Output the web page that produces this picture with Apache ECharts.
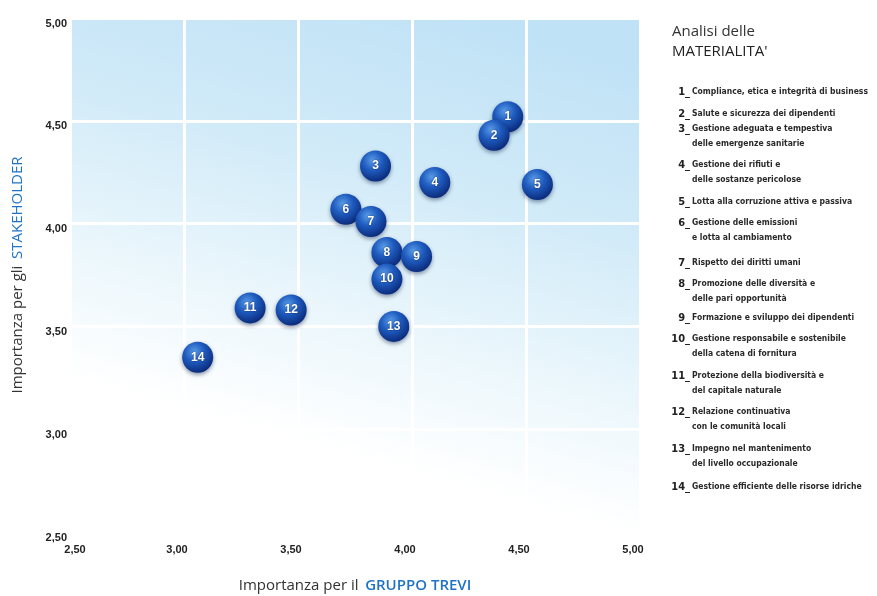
<!DOCTYPE html>
<html>
<head>
<meta charset="utf-8">
<script src="https://cdn.jsdelivr.net/npm/echarts@6/dist/echarts.min.js"></script>
<style>
html,body{margin:0;padding:0;background:#fff;}
#chart{width:877px;height:596px;}
</style>
</head>
<body>
<div id="chart"></div>
<script>
// Topic ids (bubble labels)
var ids = ['1','2','3','4','5','6','7','8','9','10','11','12','13','14'];
// Importanza per il GRUPPO TREVI (x)
var gruppoValues = [4.42, 4.36, 3.84, 4.10, 4.55, 3.71, 3.82, 3.89, 4.02, 3.89, 3.29, 3.47, 3.92, 3.06];
// Importanza per gli STAKEHOLDER (y)
var stakeholderValues = [4.52, 4.43, 4.28, 4.20, 4.19, 4.07, 4.01, 3.86, 3.84, 3.73, 3.59, 3.58, 3.50, 3.35];
// Axis ticks
var axisMin = 2.5, axisMax = 5.0, axisStep = 0.5;
// Legend text (each item may span two lines)
var legendItems = [
  ['Compliance, etica e integrità di business'],
  ['Salute e sicurezza dei dipendenti'],
  ['Gestione adeguata e tempestiva', 'delle emergenze sanitarie'],
  ['Gestione dei rifiuti e', 'delle sostanze pericolose'],
  ['Lotta alla corruzione attiva e passiva'],
  ['Gestione delle emissioni', 'e lotta al cambiamento'],
  ['Rispetto dei diritti umani'],
  ['Promozione delle diversità e', 'delle pari opportunità'],
  ['Formazione e sviluppo dei dipendenti'],
  ['Gestione responsabile e sostenibile', 'della catena di fornitura'],
  ['Protezione della biodiversità e', 'del capitale naturale'],
  ['Relazione continuativa', 'con le comunità locali'],
  ['Impegno nel mantenimento', 'del livello occupazionale'],
  ['Gestione efficiente delle risorse idriche']
];
var legendTitle = ['Analisi delle', "MATERIALITA'"];

var chart = echarts.init(document.getElementById('chart'));
var points = gruppoValues.map(function (x, i) { return { value: [x, stakeholderValues[i]], name: ids[i] }; });

var fmt = function (v) { return v.toFixed(2).replace('.', ','); };
var fmtX = function (v) {
  var s = fmt(v);
  return v === axisMin ? '{m|' + s + '}' : s;
};

// legend graphics
var legendTops = [92, 114, 129, 165, 202, 223, 263, 284, 318, 339, 376, 412, 449, 487];
var graphics = [];
graphics.push({ type: 'text', left: 672, top: 24, style: { text: legendTitle[0], font: '15px "Open Sans"', fill: '#333' } });
graphics.push({ type: 'text', left: 672, top: 44, style: { text: legendTitle[1], font: '15px "Open Sans"', fill: '#222' } });
legendItems.forEach(function (lines, i) {
  var y = legendTops[i];
  graphics.push({ type: 'text', x: 690, y: y, style: { text: ids[i] + '_', font: 'bold 11px "DejaVu Sans Condensed", sans-serif', fill: '#222', align: 'right', verticalAlign: 'middle' } });
  lines.forEach(function (t, j) {
    graphics.push({ type: 'text', x: 692, y: y + j * 14.5, style: { text: t, font: 'bold 8.5px "DejaVu Sans Condensed", sans-serif', fill: '#2a2a2a', align: 'left', verticalAlign: 'middle' } });
  });
});

var richName = {
  a: { fontFamily: 'Open Sans', fontSize: 15, color: '#333' },
  b: { fontFamily: 'Open Sans', fontSize: 15, fontWeight: 600, color: '#1f73c6' }
};
var richNameY = {
  a: { fontFamily: 'Open Sans', fontSize: 15, color: '#333' },
  b: { fontFamily: 'Open Sans', fontSize: 15, color: '#1f73c6' }
};

chart.setOption({
  animation: false,
  grid: {
    left: 70, right: 237, top: 18, bottom: 64,
    outerBoundsMode: 'none', containLabel: false,
    show: true, borderWidth: 0,
    backgroundColor: {
      type: 'linear', x: 0.7, y: 0, x2: 0.45, y2: 1,
      colorStops: [
        { offset: 0, color: '#c0e2f6' },
        { offset: 0.3, color: '#d0eaf8' },
        { offset: 0.62, color: '#ecf7fc' },
        { offset: 0.85, color: '#ffffff' }
      ]
    }
  },
  xAxis: {
    type: 'value', min: axisMin, max: axisMax, interval: axisStep,
    axisLine: { show: false }, axisTick: { show: false },
    axisLabel: {
      formatter: fmtX, color: '#222', fontSize: 11, fontWeight: 'bold', fontFamily: 'Liberation Sans',
      margin: 12, padding: [0, 14, 0, 0],
      rich: { m: { color: '#222', fontSize: 11, fontWeight: 'bold', fontFamily: 'Liberation Sans', padding: [0, 0, 0, 24] } }
    },
    splitLine: { show: true, lineStyle: { color: '#ffffff', width: 3 } },
    name: '{a|Importanza per il}  {b|GRUPPO TREVI}',
    nameLocation: 'middle', nameGap: 46,
    nameTextStyle: { rich: richName }
  },
  yAxis: {
    type: 'value', min: axisMin, max: axisMax, interval: axisStep,
    axisLine: { show: false }, axisTick: { show: false },
    axisLabel: { formatter: fmt, color: '#222', fontSize: 11, fontWeight: 'bold', fontFamily: 'Liberation Sans', margin: 3, verticalAlign: 'top' },
    splitLine: { show: true, lineStyle: { color: '#ffffff', width: 3 } },
    name: '{a|Importanza per gli}  {b|STAKEHOLDER}',
    nameLocation: 'middle', nameGap: 45, nameRotate: 90,
    nameTextStyle: { rich: richNameY }
  },
  series: [{
    type: 'scatter',
    data: points,
    symbolSize: 31,
    itemStyle: {
      color: {
        type: 'radial', x: 0.4, y: 0.32, r: 0.7,
        colorStops: [
          { offset: 0, color: '#5a9be6' },
          { offset: 0.45, color: '#1f5cc0' },
          { offset: 1, color: '#0a2a7a' }
        ]
      },
      shadowBlur: 4, shadowColor: 'rgba(0,20,60,0.45)', shadowOffsetY: 2, opacity: 1
    },
    label: {
      show: true, position: 'inside', formatter: function (p) { return p.name; },
      color: '#ffffff', fontWeight: 'bold', fontSize: 12, fontFamily: 'Liberation Sans',
      textShadowColor: 'rgba(0,0,40,0.6)', textShadowBlur: 2
    }
  }],
  graphic: graphics
});
</script>
</body>
</html>
